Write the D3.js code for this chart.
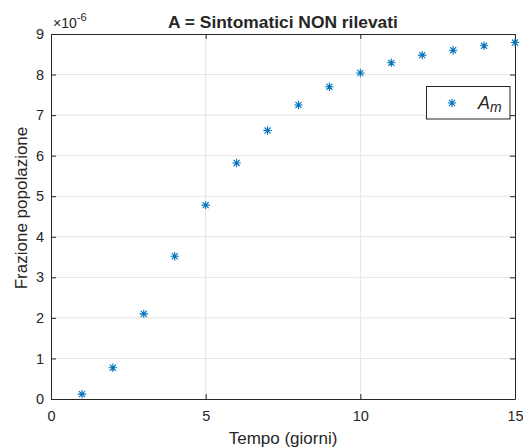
<!DOCTYPE html>
<html>
<head>
<meta charset="utf-8">
<script src="https://cdn.jsdelivr.net/npm/d3@7"></script>
<style>
body{margin:0;background:#fff;}
text{font-family:"Liberation Sans",Arial,sans-serif;fill:#262626;}
</style>
</head>
<body>
<svg id="c" width="523" height="448"></svg>
<script>
const days = [1,2,3,4,5,6,7,8,9,10,11,12,13,14,15];
const Am = [0.12,0.77,2.10,3.52,4.78,5.82,6.62,7.25,7.70,8.04,8.29,8.48,8.60,8.71,8.79];
const xTicks = [0,5,10,15];
const yTicks = [0,1,2,3,4,5,6,7,8,9];
const title = "A = Sintomatici NON rilevati";
const xLabel = "Tempo (giorni)";
const yLabel = "Frazione popolazione";

const svg = d3.select("#c");
const L=51, R=515, T=34, B=399;
const x = d3.scaleLinear().domain([0,15]).range([L,R]);
const y = d3.scaleLinear().domain([0,9]).range([B,T]);
const ax = "#262626";

// grid
svg.append("g").selectAll("line").data(xTicks.slice(1,-1)).join("line")
  .attr("x1",d=>x(d)).attr("x2",d=>x(d)).attr("y1",T).attr("y2",B)
  .attr("stroke","#e5e5e5").attr("stroke-width",1);
svg.append("g").selectAll("line").data(yTicks.slice(1,-1)).join("line")
  .attr("y1",d=>y(d)).attr("y2",d=>y(d)).attr("x1",L).attr("x2",R)
  .attr("stroke","#e5e5e5").attr("stroke-width",1);

// axes
const gx = svg.append("g").attr("transform",`translate(0,${B})`)
  .call(d3.axisBottom(x).tickValues(xTicks).tickSizeInner(-5).tickSizeOuter(0).tickPadding(12));
const gxt = svg.append("g").attr("transform",`translate(0,${T})`)
  .call(d3.axisTop(x).tickValues(xTicks).tickSizeInner(-5).tickSizeOuter(0).tickFormat(""));
const gy = svg.append("g").attr("transform",`translate(${L},0)`)
  .call(d3.axisLeft(y).tickValues(yTicks).tickSizeInner(-5).tickSizeOuter(0).tickPadding(7));
const gyr = svg.append("g").attr("transform",`translate(${R},0)`)
  .call(d3.axisRight(y).tickValues(yTicks).tickSizeInner(-5).tickSizeOuter(0).tickFormat(""));
[gx,gxt,gy,gyr].forEach(g=>{
  g.select(".domain").attr("stroke",ax).attr("stroke-width",1);
  g.selectAll(".tick line").attr("stroke",ax);
  g.selectAll(".tick text").attr("font-size",14.5).attr("fill",ax)
   .attr("font-family","Liberation Sans, Arial, sans-serif");
});

// markers
function star(g, cx, cy, r){
  const d = r*0.72;
  const p = `M${cx-r},${cy}L${cx+r},${cy}M${cx},${cy-r}L${cx},${cy+r}M${cx-d},${cy-d}L${cx+d},${cy+d}M${cx-d},${cy+d}L${cx+d},${cy-d}`;
  g.append("path").attr("d",p).attr("stroke","#0072BD").attr("stroke-width",1.1).attr("fill","none");
}
const mg = svg.append("g");
days.forEach((d,i)=>star(mg, x(d), y(Am[i]), 4.2));

// exponent
const ex = svg.append("text").attr("x",L+2).attr("y",T-6).attr("font-size",14);
ex.append("tspan").text("×10");
ex.append("tspan").attr("dy",-7).attr("font-size",11).text("-6");

// title
svg.append("text").attr("x",(L+R)/2).attr("y",28).attr("text-anchor","middle")
  .attr("font-size",17.4).attr("font-weight","bold").attr("fill","#000").text(title);
// labels
svg.append("text").attr("x",(L+R)/2).attr("y",444).attr("text-anchor","middle")
  .attr("font-size",17).text(xLabel);
svg.append("text").attr("transform",`translate(27,208) rotate(-90)`).attr("text-anchor","middle")
  .attr("font-size",17).text(yLabel);

// legend
const lg = svg.append("g");
lg.append("rect").attr("x",426.5).attr("y",86.5).attr("width",83.5).attr("height",32.5)
  .attr("fill","#fff").attr("stroke",ax).attr("stroke-width",1);
star(lg, 452, 103, 4.2);
const lt = lg.append("text").attr("x",478).attr("y",109).attr("font-family","Liberation Serif, DejaVu Serif, serif")
  .attr("font-style","italic").attr("font-size",18).attr("fill","#000");
lt.append("tspan").text("A");
lt.append("tspan").attr("dy",3).attr("font-size",14).text("m");
</script>
</body>
</html>
